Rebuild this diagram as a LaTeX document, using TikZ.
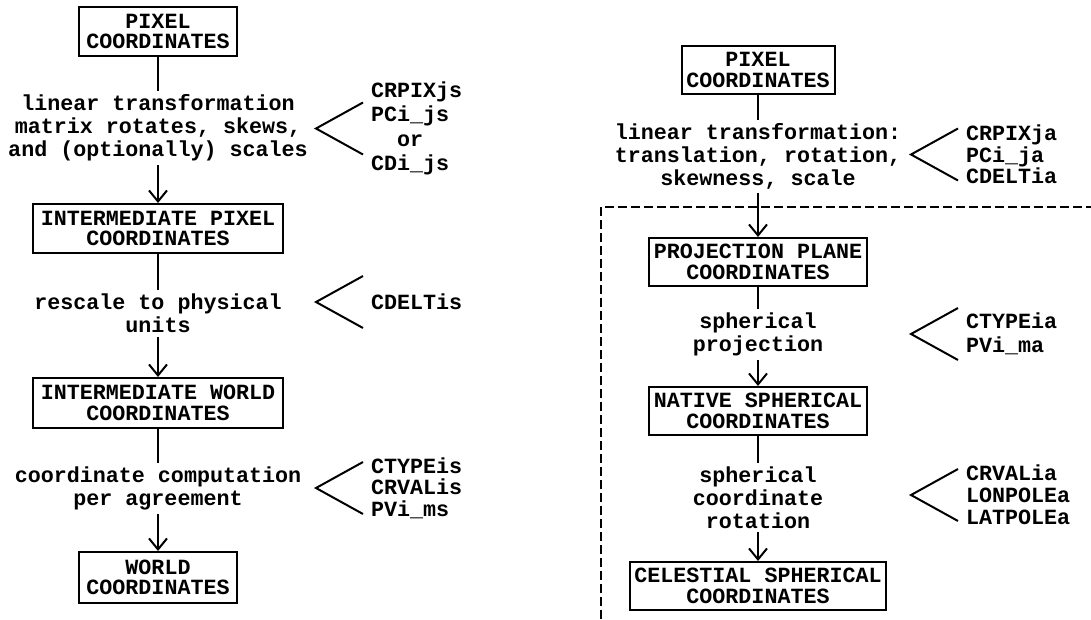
\documentclass[tikz,border=0pt]{standalone}
\usepackage{fontspec}
\setmainfont{Liberation Mono}
\usetikzlibrary{arrows.meta,calc}
\begin{document}
\begin{tikzpicture}[x=1pt,y=-1pt,line width=2pt,
  box/.style={draw,inner sep=0pt,align=center,font=\bfseries\fontsize{21.7}{20.5}\selectfont},
  lab/.style={inner xsep=0pt,inner ysep=3pt,align=center,font=\bfseries\fontsize{21.7}{23}\selectfont},
  param/.style={inner sep=0pt,anchor=west,align=left,font=\bfseries\fontsize{21.7}{22.5}\selectfont},
  arr/.style={-{Straight Barb[length=11pt,width=18pt]}},
  frame/.style={line width=1.2pt,dash pattern=on 9pt off 4pt}]
\useasboundingbox (0,0) rectangle (1091,619);
% dashed frame
\coordinate (fa) at (601,619);
\coordinate (fb) at (601,207);
\coordinate (fc) at (1091,207);
\draw[frame] (fa) -- (fb) -- (fc);
% left column
\node[box,minimum width=158pt,minimum height=49pt] (b1) at (158,31.5) {PIXEL\\COORDINATES};
\node[lab] (l1) at (158,128) {linear transformation\\matrix rotates, skews,\\and (optionally) scales};
\node[box,minimum width=250pt,minimum height=49pt] (b2) at (158,228.5) {INTERMEDIATE PIXEL\\COORDINATES};
\node[lab] (l2) at (158,313.5) {rescale to physical\\units};
\node[box,minimum width=250pt,minimum height=50pt] (b3) at (158,403) {INTERMEDIATE WORLD\\COORDINATES};
\node[lab] (l3) at (158,488.5) {coordinate computation\\per agreement};
\node[box,minimum width=158pt,minimum height=51pt] (b4) at (158,577.5) {WORLD\\COORDINATES};
\draw (b1) -- (l1);
\draw[arr] (l1) -- (b2);
\draw (b2) -- (l2);
\draw[arr] (l2) -- (b3);
\draw (b3) -- (l3);
\draw[arr] (l3) -- (b4);
% right column
\node[box,minimum width=153pt,minimum height=48pt] (r1) at (758,70) {PIXEL\\COORDINATES};
\node[lab] (m1) at (758,156.5) {linear transformation:\\translation, rotation,\\skewness, scale};
\node[box,minimum width=218pt,minimum height=48pt] (r2) at (758,262) {PROJECTION PLANE\\COORDINATES};
\node[lab] (m2) at (758,334.5) {spherical\\projection};
\node[box,minimum width=218pt,minimum height=48pt] (r3) at (758,411) {NATIVE SPHERICAL\\COORDINATES};
\node[lab] (m3) at (758,497.5) {spherical\\coordinate\\rotation};
\node[box,minimum width=256pt,minimum height=48pt] (r4) at (758,586) {CELESTIAL SPHERICAL\\COORDINATES};
\draw (r1) -- (m1);
\draw[arr] (m1) -- (r2);
\draw (r2) -- (m2);
\draw[arr] (m2) -- (r3);
\draw (r3) -- (m3);
\draw[arr] (m3) -- (r4);
% parameter lists
\node[param,font=\bfseries\fontsize{21.7}{24.3}\selectfont] (pA) at (370,128.5) {CRPIXjs\\PCi\_js\\\phantom{CD}or\\CDi\_js};
\node[param] (pB) at (370,302) {CDELTis};
\node[param,font=\bfseries\fontsize{21.7}{21.5}\selectfont] (pC) at (370,488) {CTYPEis\\CRVALis\\PVi\_ms};
\node[param,font=\bfseries\fontsize{21.7}{21.5}\selectfont] (pD) at (965,154.5) {CRPIXja\\PCi\_ja\\CDELTia};
\node[param,font=\bfseries\fontsize{21.7}{24}\selectfont] (pE) at (965,334) {CTYPEia\\PVi\_ma};
\node[param,font=\bfseries\fontsize{21.7}{22}\selectfont] (pF) at (965,495) {CRVALia\\LONPOLEa\\LATPOLEa};
\foreach \n in {pA,pB,pC,pD,pE,pF}
  \draw ($(\n.west)+(-7,-26)$) -- ($(\n.west)+(-54,0)$) -- ($(\n.west)+(-7,26)$);
\end{tikzpicture}
\end{document}
